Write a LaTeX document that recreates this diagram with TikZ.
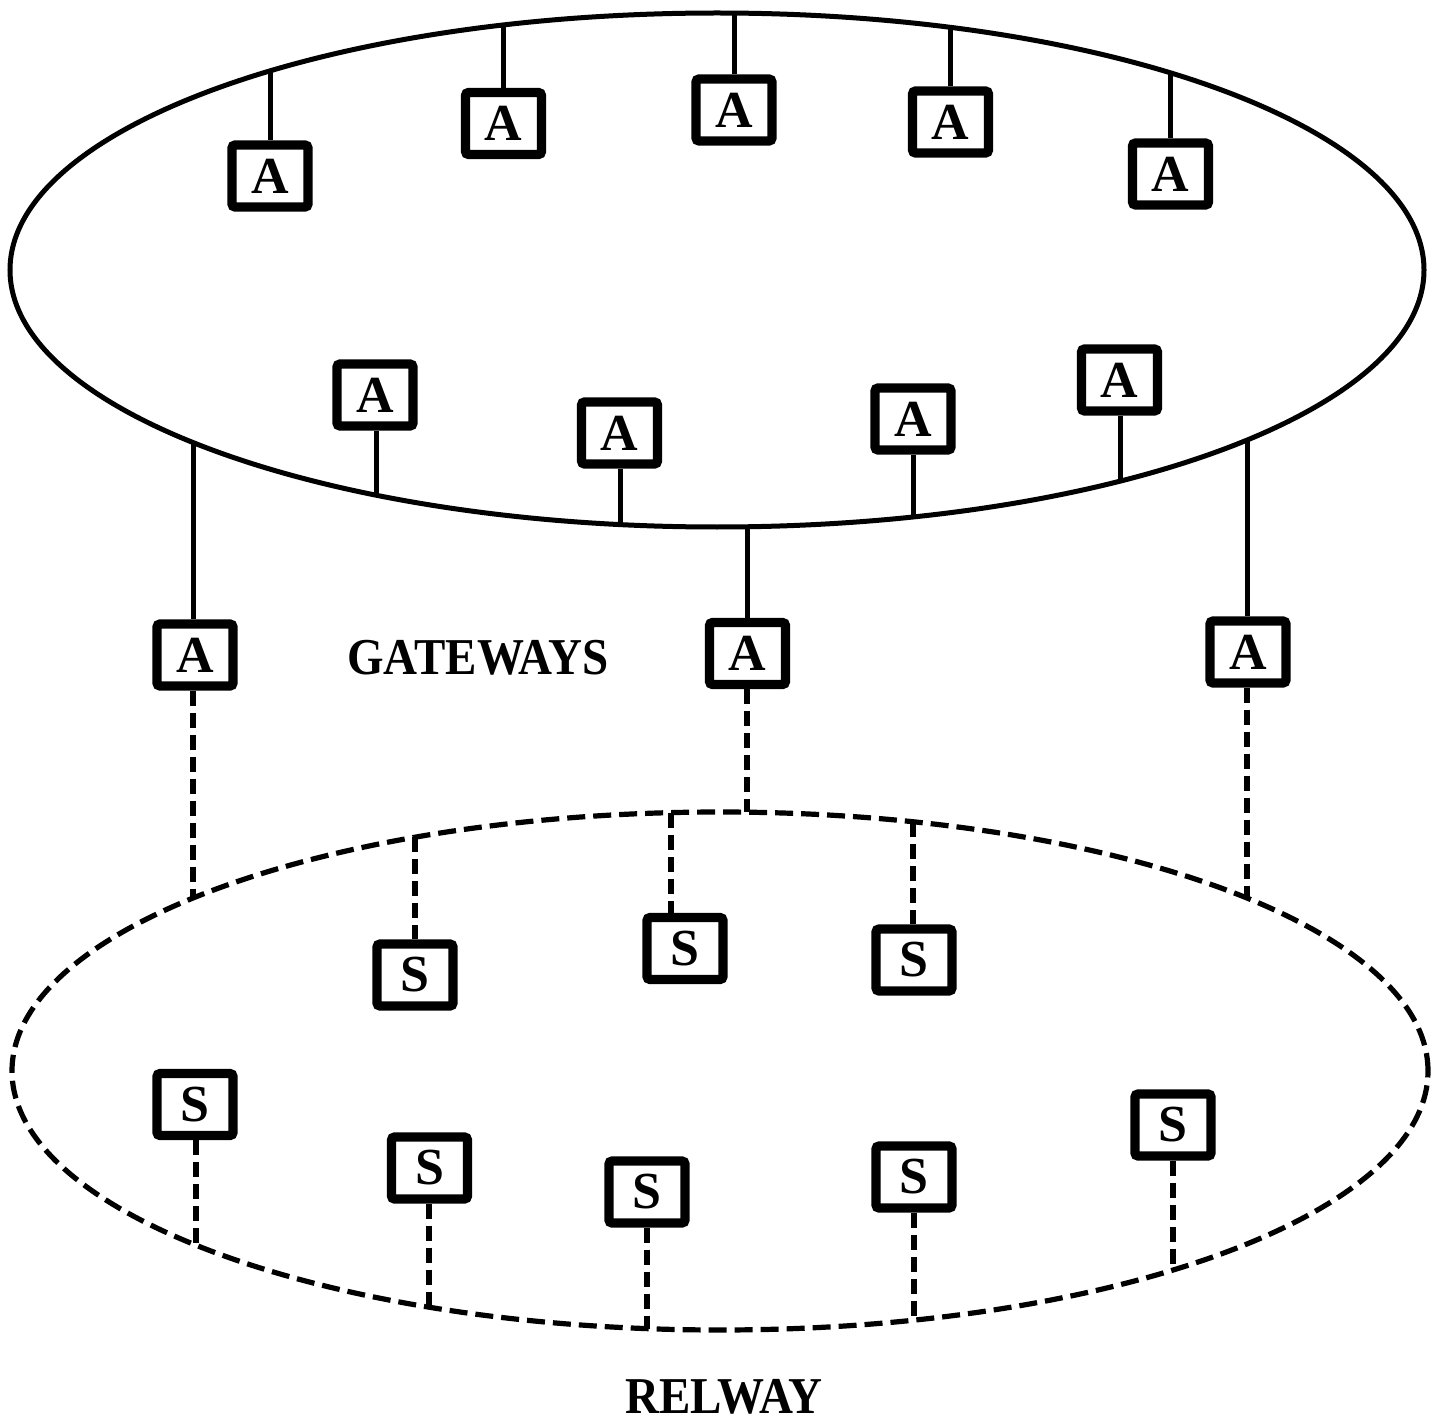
\documentclass[tikz,border=0pt]{standalone}
\usepackage{fontspec}
\setmainfont{Liberation Serif}
\usetikzlibrary{calc}
\begin{document}
\begin{tikzpicture}[x=0.5pt,y=-0.5pt,
  box/.style={draw, line width=4.6pt, rounded corners=1.5pt, minimum width=38pt,
    minimum height=31pt, inner sep=0pt, fill=white,
    font=\fontsize{26}{26}\selectfont\bfseries},
  conn/.style={line width=2.5pt},
  dconn/.style={line width=2.6pt, dash pattern=on 7.5pt off 3.5pt},
  ring/.style={line width=2.5pt},
  dring/.style={line width=2.6pt, dash pattern=on 9pt off 4pt},
  lbl/.style={font=\fontsize{23.5}{23.5}\selectfont\bfseries, inner sep=0pt, yscale=1.1}]
\useasboundingbox (0,0) rectangle (1431,1423);

% rings
\draw[ring] (717,270) ellipse [x radius=353.5pt, y radius=128.5pt];
\draw[dring] (720,1071) ellipse [x radius=354pt, y radius=129.5pt];

% attachment points on upper ring
\coordinate (t1) at (270,71);
\coordinate (t2) at (503,25);
\coordinate (t3) at (734,13);
\coordinate (t4) at (950,27);
\coordinate (t5) at (1170,73);
\coordinate (t6) at (376,495);
\coordinate (t7) at (620,525);
\coordinate (t8) at (913,517);
\coordinate (t9) at (1120,481);
\coordinate (gt1) at (193,443);
\coordinate (gt2) at (747,527);
\coordinate (gt3) at (1247,440);
% attachment points on lower ring
\coordinate (gb1) at (193,898);
\coordinate (gb2) at (747,812);
\coordinate (gb3) at (1247,898);
\coordinate (b1) at (415,837);
\coordinate (b2) at (671,813);
\coordinate (b3) at (913,822);
\coordinate (b4) at (196,1245);
\coordinate (b5) at (429,1307);
\coordinate (b6) at (647,1329);
\coordinate (b7) at (914,1320);
\coordinate (b8) at (1173,1270);

% boxes in upper ring
\node[box] (a1) at (270,176) {A};
\node[box] (a2) at (503.5,123.5) {A};
\node[box] (a3) at (734,110) {A};
\node[box] (a4) at (950.5,122) {A};
\node[box] (a5) at (1170.5,174) {A};
\node[box] (a6) at (375,395) {A};
\node[box] (a7) at (619.5,433) {A};
\node[box] (a8) at (913,419) {A};
\node[box] (a9) at (1119.5,380) {A};
% gateways
\node[box] (g1) at (195,655) {A};
\node[box] (g2) at (747.5,653.5) {A};
\node[box] (g3) at (1248,652) {A};
% boxes in lower ring
\node[box] (s1) at (415,975) {S};
\node[box] (s2) at (685,948.5) {S};
\node[box] (s3) at (914,960) {S};
\node[box] (s4) at (195,1104.5) {S};
\node[box] (s5) at (429.5,1168) {S};
\node[box] (s6) at (647,1192) {S};
\node[box] (s7) at (914,1177) {S};
\node[box] (s8) at (1173,1125) {S};

% connectors, upper ring
\draw[conn] (t1) -- (t1 |- a1.north);
\draw[conn] (t2) -- (t2 |- a2.north);
\draw[conn] (t3) -- (t3 |- a3.north);
\draw[conn] (t4) -- (t4 |- a4.north);
\draw[conn] (t5) -- (t5 |- a5.north);
\draw[conn] (t6) -- (t6 |- a6.south);
\draw[conn] (t7) -- (t7 |- a7.south);
\draw[conn] (t8) -- (t8 |- a8.south);
\draw[conn] (t9) -- (t9 |- a9.south);
% gateway links
\draw[conn] (gt1) -- (gt1 |- g1.north);
\draw[conn] (gt2) -- (gt2 |- g2.north);
\draw[conn] (gt3) -- (gt3 |- g3.north);
\draw[dconn] (gb1 |- g1.south) -- (gb1);
\draw[dconn] (gb2 |- g2.south) -- (gb2);
\draw[dconn] (gb3 |- g3.south) -- (gb3);
% connectors, lower ring
\draw[dconn] (b1) -- (b1 |- s1.north);
\draw[dconn] (b2) -- (b2 |- s2.north);
\draw[dconn] (b3) -- (b3 |- s3.north);
\draw[dconn] (b4 |- s4.south) -- (b4);
\draw[dconn] (b5 |- s5.south) -- (b5);
\draw[dconn] (b6 |- s6.south) -- (b6);
\draw[dconn] (b7 |- s7.south) -- (b7);
\draw[dconn] (b8 |- s8.south) -- (b8);

% labels
\node[lbl] (gw) at (478,658) {GATEWAYS};
\node[lbl] (rw) at (724,1397) {RELWAY};
\end{tikzpicture}
\end{document}
